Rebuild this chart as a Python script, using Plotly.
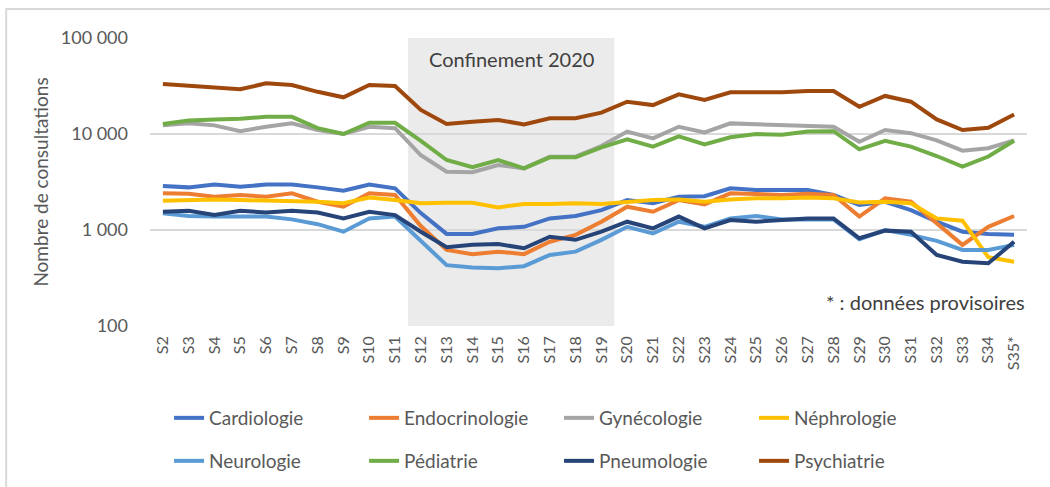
import plotly.graph_objects as go

weeks = ["S2", "S3", "S4", "S5", "S6", "S7", "S8", "S9", "S10", "S11", "S12", "S13",
         "S14", "S15", "S16", "S17", "S18", "S19", "S20", "S21", "S22", "S23", "S24",
         "S25", "S26", "S27", "S28", "S29", "S30", "S31", "S32", "S33", "S34", "S35*"]

cardiologie = [2870, 2780, 2970, 2820, 2970, 2970, 2780, 2570, 2970, 2720, 1500, 910,
               910, 1040, 1080, 1320, 1400, 1610, 2050, 1900, 2220, 2250, 2720,
               2610, 2610, 2610, 2320, 1820, 1970, 1610, 1220, 960, 910, 890]
endocrinologie = [2410, 2380, 2220, 2320, 2220, 2410, 1970, 1750, 2410, 2320, 1100, 620,
                  560, 595, 560, 755, 890, 1220, 1750, 1550, 2050, 1850, 2410,
                  2380, 2320, 2380, 2320, 1380, 2140, 1970, 1170, 700, 1080, 1400]
gynecologie = [12300, 12900, 12300, 10700, 11900, 12900, 11000, 10000, 11900, 11500, 6000, 4050,
               4000, 4750, 4390, 5800, 5800, 7500, 10600, 9000, 11900, 10400, 12900,
               12700, 12300, 12100, 11900, 8300, 11000, 10200, 8600, 6700, 7100, 8600]
nephrologie = [2020, 2050, 2080, 2050, 2020, 2020, 1970, 1900, 2180, 2050, 1900, 1920,
               1920, 1720, 1870, 1870, 1900, 1870, 1970, 2050, 2080, 1970, 2080,
               2140, 2140, 2180, 2140, 1930, 1970, 1900, 1320, 1250, 520, 467]
neurologie = [1490, 1400, 1380, 1380, 1380, 1290, 1150, 960, 1320, 1380, 760, 430,
              408, 400, 420, 550, 595, 790, 1080, 920, 1220, 1080, 1320,
              1400, 1290, 1290, 1290, 800, 1000, 890, 770, 620, 620, 700]
pediatrie = [12700, 13800, 14200, 14400, 15100, 15100, 11500, 10000, 13100, 13100, 8500, 5360,
             4500, 5360, 4390, 5720, 5720, 7260, 8790, 7380, 9450, 7800, 9230,
             10000, 9800, 10600, 10700, 6930, 8500, 7380, 5900, 4570, 5820, 8500]
pneumologie = [1550, 1590, 1430, 1590, 1520, 1590, 1520, 1320, 1550, 1430, 960, 660,
               700, 715, 645, 850, 790, 960, 1220, 1040, 1380, 1040, 1270,
               1220, 1270, 1320, 1320, 820, 985, 960, 550, 467, 450, 755]
psychiatrie = [33200, 31800, 31100, 29200, 33700, 32400, 27500, 24100, 32400, 31600, 17800, 12700,
               13400, 14000, 12600, 14600, 14600, 16700, 21700, 20000, 25900, 22600, 27200,
               27200, 27200, 28000, 28000, 19200, 24900, 21700, 14200, 11000, 11600, 16000]

series = [
    ("Cardiologie", cardiologie, "#4472C4", "legend"),
    ("Endocrinologie", endocrinologie, "#ED7D31", "legend"),
    ("Gynécologie", gynecologie, "#A5A5A5", "legend"),
    ("Néphrologie", nephrologie, "#FFC000", "legend"),
    ("Neurologie", neurologie, "#5B9BD5", "legend2"),
    ("Pédiatrie", pediatrie, "#70AD47", "legend2"),
    ("Pneumologie", pneumologie, "#264478", "legend2"),
    ("Psychiatrie", psychiatrie, "#9E480E", "legend2"),
]

y_tickvals = [100, 1000, 10000, 100000]
y_ticktext = ["100", "1 000", "10 000", "100 000"]

FONT = "Lato, 'Open Sans', sans-serif"
GREY = "#595959"

fig = go.Figure()
for name, vals, color, leg in series:
    fig.add_trace(go.Scatter(
        x=weeks, y=vals, name=name, mode="lines",
        line=dict(color=color, width=4, shape="linear"),
        legend=leg,
    ))

# Lockdown shaded zone (between S11/S12 and S19/S20)
fig.add_shape(type="rect", xref="x", yref="paper", x0=9.5, x1=17.5, y0=0, y1=1,
              fillcolor="#EBEBEB", line=dict(width=0), layer="below")
fig.add_annotation(x=13.5, y=4.78, xref="x", yref="y", text="Confinement 2020",
                   showarrow=False, font=dict(family=FONT, size=20, color="#404040"))
fig.add_annotation(x=1.0, y=2.25, xref="paper", yref="y", xanchor="right",
                   text="* : données provisoires", showarrow=False,
                   font=dict(family=FONT, size=20, color="#404040"))

# chart frame (top/left edges visible)
fig.add_shape(type="rect", xref="paper", yref="paper", x0=-0.164, x1=1.1, y0=-0.7, y1=1.1007,
              line=dict(color="#D9D9D9", width=2), fillcolor="rgba(0,0,0,0)", layer="above")

legend_common = dict(orientation="h", xref="container", yref="container",
                     xanchor="left", yanchor="middle",
                     entrywidth=150, entrywidthmode="pixels",
                     font=dict(size=19, color=GREY), bgcolor="rgba(0,0,0,0)")

fig.update_layout(
    width=1050, height=487,
    margin=dict(l=150, r=23, t=38, b=161, autoexpand=False),
    paper_bgcolor="white", plot_bgcolor="white",
    font=dict(family=FONT, color=GREY),
    xaxis=dict(type="category", range=[-0.5, 33.5], showgrid=False, automargin=False,
               showline=False, zeroline=False, tickangle=-90,
               tickfont=dict(size=16, color=GREY), ticks="", ticklabelstandoff=6),
    yaxis=dict(type="log", range=[2, 5], tickvals=y_tickvals, ticktext=y_ticktext,
               automargin=False,
               showgrid=True, gridcolor="#D9D9D9", gridwidth=1.5, zeroline=False,
               showline=False, ticks="", tickfont=dict(size=18, color=GREY),
               ticklabelstandoff=21,
               title=dict(text="Nombre de consultations", font=dict(size=19, color=GREY),
                          standoff=7)),
    legend=dict(x=0.161, y=1 - 418 / 487, **legend_common),
    legend2=dict(x=0.161, y=1 - 461 / 487, **legend_common),
    showlegend=True,
)

fig.write_html("out.html", config={"displayModeBar": False},
               post_script="document.body.style.margin='0';")
